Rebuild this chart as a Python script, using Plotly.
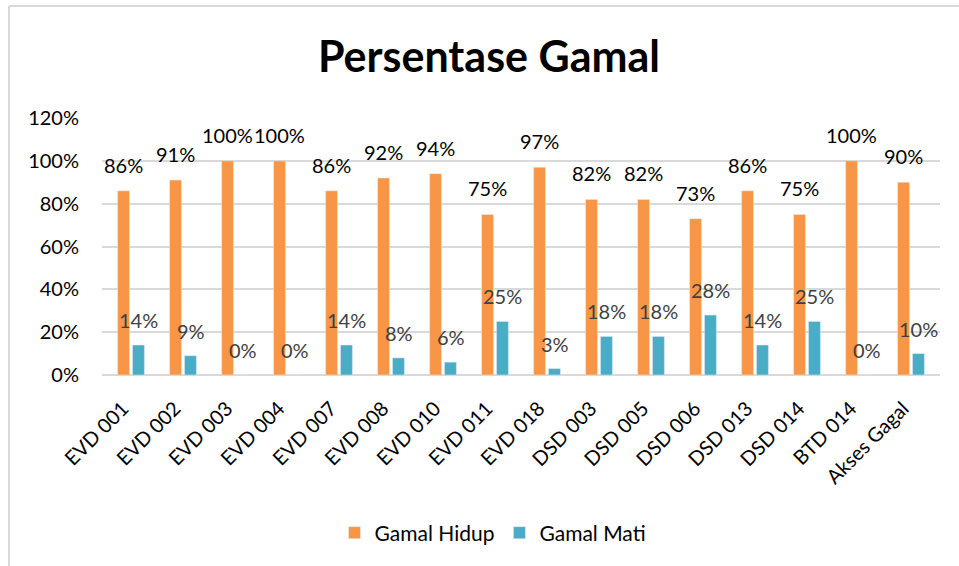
import plotly.graph_objects as go

categories = ["EVD 001", "EVD 002", "EVD 003", "EVD 004", "EVD 007", "EVD 008",
              "EVD 010", "EVD 011", "EVD 018", "DSD 003", "DSD 005", "DSD 006",
              "DSD 013", "DSD 014", "BTD 014", "Akses Gagal"]
gamal_hidup = [0.86, 0.91, 1.00, 1.00, 0.86, 0.92, 0.94, 0.75, 0.97, 0.82, 0.82, 0.73, 0.86, 0.75, 1.00, 0.90]
gamal_mati = [0.14, 0.09, 0.00, 0.00, 0.14, 0.08, 0.06, 0.25, 0.03, 0.18, 0.18, 0.28, 0.14, 0.25, 0.00, 0.10]
y_ticks = [0, 0.2, 0.4, 0.6, 0.8, 1.0, 1.2]

FONT = "Lato"
ORANGE = "#F79646"
BLUE = "#4BACC6"

W, H = 959, 566
ML, MR, MT, MB = 102, 19, 118, 191
PW, PH = W - ML - MR, H - MT - MB

fig = go.Figure()
fig.add_trace(go.Bar(name="Gamal Hidup", x=categories, y=gamal_hidup, marker_color=ORANGE))
fig.add_trace(go.Bar(name="Gamal Mati", x=categories, y=gamal_mati, marker_color=BLUE))

annotations = []
for c, v in zip(categories, gamal_hidup):
    annotations.append(dict(x=c, y=v, xref="x", yref="y", text=f"{round(v*100)}%",
                            showarrow=False, xshift=-7.5, yshift=26, yanchor="middle",
                            font=dict(family=FONT, size=20, color="#000000")))
for c, v in zip(categories, gamal_mati):
    annotations.append(dict(x=c, y=v, xref="x", yref="y", text=f"{round(v*100)}%",
                            showarrow=False, xshift=7.5, yshift=25, yanchor="middle",
                            font=dict(family=FONT, size=20, color="#404040")))

def px_x(p):
    return (p - ML) / PW

def px_y(p):
    return (H - MB - p) / PH

shapes = [
    dict(type="line", xref="paper", yref="paper", x0=px_x(9), x1=px_x(959), y0=px_y(6), y1=px_y(6),
         line=dict(color="#d9d9d9", width=2)),
    dict(type="line", xref="paper", yref="paper", x0=px_x(9), x1=px_x(9), y0=px_y(6), y1=px_y(566),
         line=dict(color="#d9d9d9", width=2)),
]

fig.update_layout(
    width=W, height=H,
    margin=dict(l=ML, r=MR, t=MT, b=MB, autoexpand=False),
    paper_bgcolor="white", plot_bgcolor="white",
    font=dict(family=FONT, size=20, color="#000000"),
    title=dict(text="<b>Persentase Gamal</b>", x=489 / W, xref="container", xanchor="center",
               y=1 - 57 / H, yref="container", yanchor="middle",
               font=dict(family=FONT, size=43, color="#000000")),
    barmode="group", bargap=0.427, bargroupgap=0.2,
    showlegend=True,
    legend=dict(orientation="h", x=px_x(493), xanchor="center", y=px_y(533), yanchor="middle",
                font=dict(family=FONT, size=21, color="#000000"), itemclick=False,
                traceorder="normal", itemwidth=30),
    annotations=annotations,
    shapes=shapes,
)
fig.update_xaxes(tickangle=-45, tickfont=dict(family=FONT, size=20, color="#000000"),
                 showgrid=False, showline=False, ticks="",
                 ticklabelstandoff=17, ticklabelshift=-8)
fig.update_yaxes(range=[0, 1.2], tickvals=y_ticks, tickformat=".0%",
                 tickfont=dict(family=FONT, size=20, color="#000000"),
                 showgrid=True, gridcolor="#d9d9d9", gridwidth=1.5,
                 zeroline=True, zerolinecolor="#d9d9d9", zerolinewidth=1.5,
                 showline=False, ticks="", ticklen=0, ticklabelstandoff=22)

fig.write_html("out.html", config={"displayModeBar": False},
               post_script="document.body.style.margin='0';")
